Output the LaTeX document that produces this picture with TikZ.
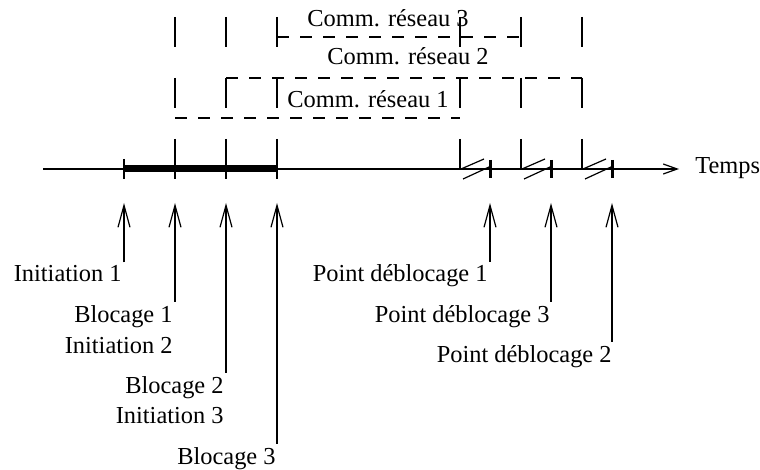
\documentclass[tikz,border=0pt]{standalone}
\usepackage{fontspec}
\setmainfont{Liberation Serif}
\usetikzlibrary{arrows.meta}
\tikzset{
  lbl/.style={inner sep=1.5pt, font=\fontsize{12.2}{14}\selectfont},
  vdash/.style={draw, line width=0.6pt, dash pattern=on 15pt off 15.5pt},
  hdash/.style={draw, line width=1.2pt, dash pattern=on 6pt off 5.5pt},
  uparrow/.style={draw, line width=0.6pt, -{Straight Barb[length=11pt,width=6pt]}},
}

\begin{document}
\begin{tikzpicture}[x=0.5pt, y=-0.5pt]
    \useasboundingbox (0,0) rectangle (760,470);
    \coordinate (start) at (43,169);
    \coordinate (end) at (679,169);
    \coordinate (t1) at (124,169);
    \coordinate (t2) at (175,169);
    \coordinate (t3) at (226,169);
    \coordinate (t4) at (277,169);
    \coordinate (u1) at (460,169);
    \coordinate (u2) at (521,169);
    \coordinate (u3) at (582,169);
    \coordinate (k1) at (490,169);
    \coordinate (k2) at (551,169);
    \coordinate (k3) at (612,169);
    \coordinate (top) at (0,17);
    \coordinate (r1) at (0,118);
    \coordinate (r2) at (0,78);
    \coordinate (r3) at (0,37);
    \coordinate (tip) at (0,203);
    \path[draw, line width=0.6pt, -{Straight Barb[length=7pt,width=5pt]}] (start) -- (end);
    \node[lbl, anchor=base west] (temps) at (692,174) {Temps};
    \path[draw, line width=3.5pt] (t1) -- (t4);
    \path[draw, line width=1pt] (t1) ++(0,-10) -- ++(0,20);
    \path[draw, line width=1pt] (t2) ++(0,-10) -- ++(0,20);
    \path[draw, line width=1pt] (t3) ++(0,-10) -- ++(0,20);
    \path[draw, line width=1pt] (t4) ++(0,-10) -- ++(0,20);
    \path[vdash] (t2 |- top) -- (t2);
    \path[vdash] (t3 |- top) -- (t3);
    \path[vdash] (t4 |- top) -- (t4);
    \path[vdash] (u1 |- top) -- (u1);
    \path[vdash] (u2 |- top) -- (u2);
    \path[vdash] (u3 |- top) -- (u3);
    \path[hdash] (t2 |- r1) -- (u1 |- r1);
    \path[hdash] (t3 |- r2) -- (u3 |- r2);
    \path[hdash] (t4 |- r3) -- (u2 |- r3);
    \node[lbl, anchor=base] (comm3) at (388,27) {Comm. réseau 3};
    \node[lbl, anchor=base] (comm2) at (408,65) {Comm. réseau 2};
    \node[lbl, anchor=base] (comm1) at (368,108) {Comm. réseau 1};
    \path[draw, line width=0.6pt] (u1) ++(1,0) -- ++(23,-10) (u1) ++(3,10) -- ++(26,-12);
    \path[draw, line width=0.6pt] (u2) ++(1,0) -- ++(23,-10) (u2) ++(3,10) -- ++(26,-12);
    \path[draw, line width=0.6pt] (u3) ++(1,0) -- ++(23,-10) (u3) ++(3,10) -- ++(26,-12);
    \path[draw, line width=1.5pt] (k1) ++(0,-9) -- ++(0,18);
    \path[draw, line width=1.5pt] (k2) ++(0,-9) -- ++(0,18);
    \path[draw, line width=1.5pt] (k3) ++(0,-9) -- ++(0,18);
    \node[lbl, anchor=base east] (init1) at (125,282) {Initiation 1};
    \node[lbl, anchor=base east] (bloc1) at (176,322) {Blocage 1};
    \node[lbl, anchor=base east] (init2) at (176,353) {Initiation 2};
    \node[lbl, anchor=base east] (bloc2) at (227,393) {Blocage 2};
    \node[lbl, anchor=base east] (init3) at (227,423) {Initiation 3};
    \node[lbl, anchor=base east] (bloc3) at (279,464) {Blocage 3};
    \node[lbl, anchor=base east] (deb1) at (491,282) {Point déblocage 1};
    \node[lbl, anchor=base east] (deb3) at (553,322) {Point déblocage 3};
    \node[lbl, anchor=base east] (deb2) at (615,362) {Point déblocage 2};
    \path[uparrow] (init1.north -| t1) -- (t1 |- tip);
    \path[uparrow] (bloc1.north -| t2) -- (t2 |- tip);
    \path[uparrow] (bloc2.north -| t3) -- (t3 |- tip);
    \path[uparrow] (bloc3.north -| t4) -- (t4 |- tip);
    \path[uparrow] (deb1.north -| k1) -- (k1 |- tip);
    \path[uparrow] (deb3.north -| k2) -- (k2 |- tip);
    \path[uparrow] (deb2.north -| k3) -- (k3 |- tip);
\end{tikzpicture}
\end{document}
